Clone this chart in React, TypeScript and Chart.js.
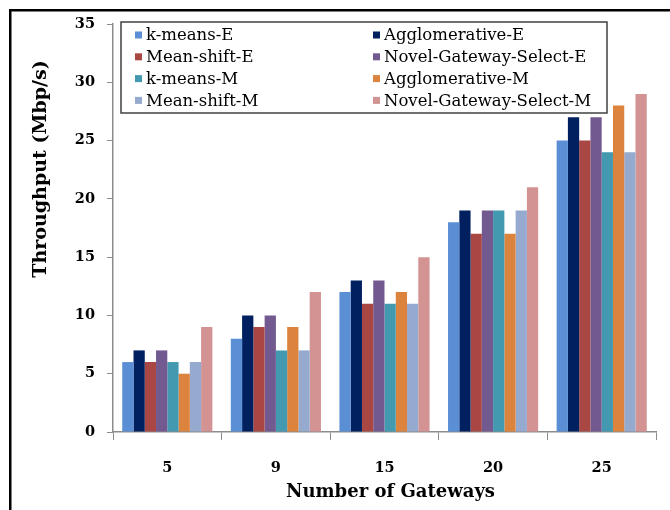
import React, { useEffect, useRef } from "react";
import { Chart, registerables } from "chart.js";

Chart.register(...registerables);

// Number of gateways on the x axis
const gatewayCounts = ["5", "9", "15", "20", "25"];

// Throughput (Mbp/s) per method
const seriesNames = [
  "k-means-E",
  "Agglomerative-E",
  "Mean-shift-E",
  "Novel-Gateway-Select-E",
  "k-means-M",
  "Agglomerative-M",
  "Mean-shift-M",
  "Novel-Gateway-Select-M",
];
const kMeansE = [6, 8, 12, 18, 25];
const agglomerativeE = [7, 10, 13, 19, 27];
const meanShiftE = [6, 9, 11, 17, 25];
const novelSelectE = [7, 10, 13, 19, 27];
const kMeansM = [6, 7, 11, 19, 24];
const agglomerativeM = [5, 9, 12, 17, 28];
const meanShiftM = [6, 7, 11, 19, 24];
const novelSelectM = [9, 12, 15, 21, 29];

const seriesValues = [
  kMeansE,
  agglomerativeE,
  meanShiftE,
  novelSelectE,
  kMeansM,
  agglomerativeM,
  meanShiftM,
  novelSelectM,
];

const seriesColors = [
  "#5A8ED5",
  "#002060",
  "#A94744",
  "#725A90",
  "#4299B0",
  "#DC843E",
  "#95AACE",
  "#D39393",
];

// y axis range
const yMin = 0;
const yMax = 35;
const yStep = 5;

const axisGray = "#8C8C8C";
const serif = "'DejaVu Serif', serif";

// Outer frame, axis titles and two-column legend
const decorations = {
  id: "decorations",
  afterDraw(chart: Chart) {
    const ctx = chart.ctx;
    const area = chart.chartArea;
    ctx.save();

    // frame lines along the top and left
    ctx.fillStyle = "#000";
    ctx.fillRect(9, 9, 670, 2.5);
    ctx.fillRect(9, 9, 2.5, 510);

    // axis titles
    ctx.fillStyle = "#000";
    ctx.textAlign = "center";
    ctx.textBaseline = "middle";
    ctx.font = `bold 18px ${serif}`;
    ctx.fillText("Number of Gateways", (area.left + area.right) / 2 + 6, 492);
    ctx.save();
    ctx.translate(41, 169);
    ctx.rotate(-Math.PI / 2);
    ctx.font = `bold 19px ${serif}`;
    ctx.fillText("Throughput (Mbp/s)", 0, 0);
    ctx.restore();

    // legend box
    const boxLeft = 121;
    const boxTop = 22;
    const boxRight = 607;
    const boxBottom = 113;
    ctx.fillStyle = "#fff";
    ctx.fillRect(boxLeft, boxTop, boxRight - boxLeft, boxBottom - boxTop);
    ctx.strokeStyle = "#404040";
    ctx.lineWidth = 1.5;
    ctx.strokeRect(boxLeft, boxTop, boxRight - boxLeft, boxBottom - boxTop);

    const colX = [135, 373];
    const rowY0 = 35;
    const rowGap = 21.8;
    ctx.font = `16.5px ${serif}`;
    ctx.textAlign = "left";
    ctx.textBaseline = "middle";
    chart.data.datasets.forEach((ds: any, i: number) => {
      const col = i % 2;
      const row = Math.floor(i / 2);
      const x = colX[col];
      const y = rowY0 + row * rowGap;
      ctx.fillStyle = ds.backgroundColor;
      ctx.fillRect(x, y - 3.5, 7, 7);
      ctx.fillStyle = "#000";
      ctx.fillText(ds.label, x + 11, y + 1);
    });

    ctx.restore();
  },
};

export default function App() {
  const canvasRef = useRef<HTMLCanvasElement | null>(null);

  useEffect(() => {
    const canvas = canvasRef.current;
    if (!canvas) return;
    const chart = new Chart(canvas, {
      type: "bar",
      data: {
        labels: gatewayCounts,
        datasets: seriesNames.map((name, i) => ({
          label: name,
          data: seriesValues[i],
          backgroundColor: seriesColors[i],
          borderWidth: 0,
          categoryPercentage: 0.83,
          barPercentage: 1,
        })),
      },
      options: {
        responsive: false,
        animation: false,
        layout: { padding: { left: 0, right: 14, top: 24, bottom: 0 } },
        plugins: {
          legend: { display: false },
          title: { display: false },
          tooltip: { enabled: false },
        },
        scales: {
          x: {
            afterFit(scale: any) {
              scale.height = 78;
            },
            grid: {
              display: true,
              offset: true,
              drawOnChartArea: false,
              drawTicks: true,
              tickLength: 8,
              color: axisGray,
            },
            border: { display: true, color: axisGray, width: 1.5 },
            ticks: {
              padding: 20,
              color: "#000",
              font: { family: serif, size: 14.5, weight: "bold" },
            },
          },
          y: {
            min: yMin,
            max: yMax,
            afterFit(scale: any) {
              scale.width = 113;
            },
            grid: {
              display: true,
              drawOnChartArea: false,
              drawTicks: true,
              tickLength: 6,
              color: axisGray,
            },
            border: { display: true, color: axisGray, width: 1.5 },
            ticks: {
              stepSize: yStep,
              padding: 12,
              color: "#000",
              font: { family: serif, size: 14.5, weight: "bold" },
            },
          },
        },
      },
      plugins: [decorations],
    });
    return () => chart.destroy();
  }, []);

  return (
    <div style={{ position: "absolute", left: 0, top: 0, width: 670, height: 510, background: "#fff" }}>
      <canvas ref={canvasRef} width={670} height={510} style={{ display: "block" }} />
    </div>
  );
}
